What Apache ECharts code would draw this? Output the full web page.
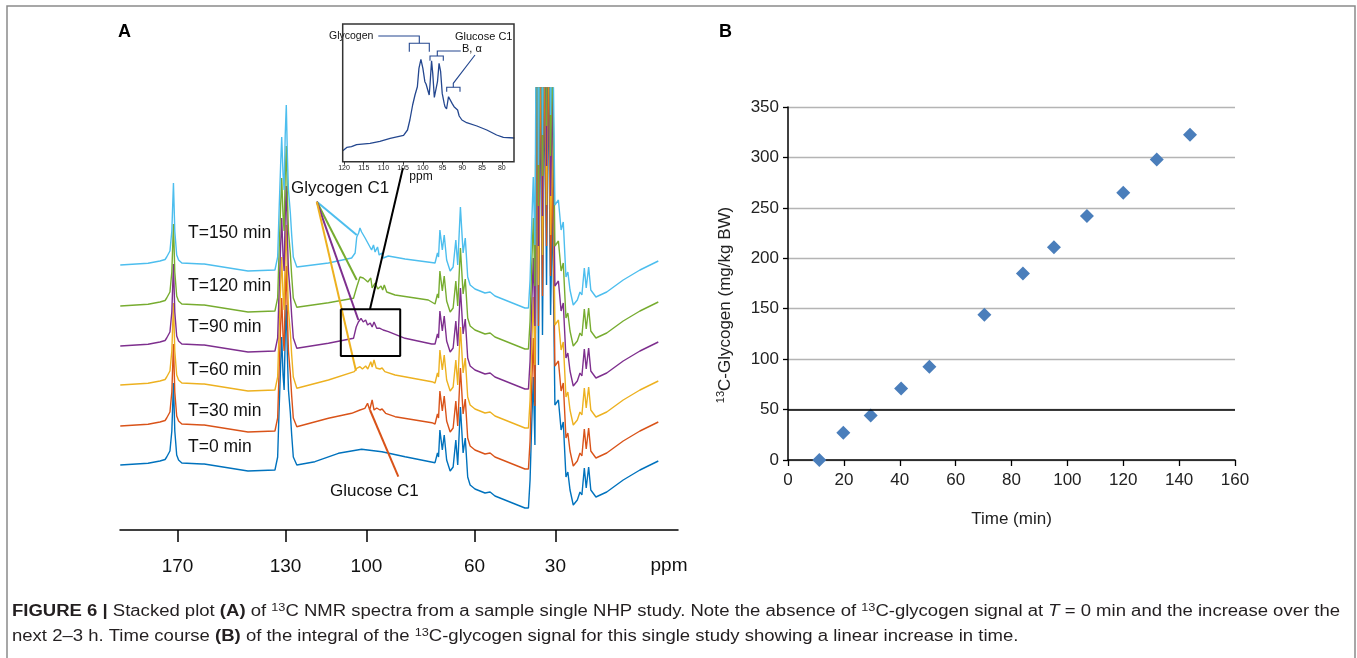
<!DOCTYPE html>
<html><head><meta charset="utf-8">
<script src="https://cdn.jsdelivr.net/npm/echarts@6/dist/echarts.min.js"></script>
<style>html,body{margin:0;padding:0;background:#fff}#c{width:1357px;height:658px}</style>
</head><body><div id="c"></div><script>
// ---------- Panel A: stacked 13C NMR spectra (x = ppm, y = intensity in display units) ----------
const ppmTicks = [170, 130, 100, 60, 30];
const insetTicks = [120, 115, 110, 105, 100, 95, 90, 85, 80];
const timeLabels = ['T=0 min', 'T=30 min', 'T=60 min', 'T=90 min', 'T=120 min', 'T=150 min'];
const traceColors = ['#0072BD', '#D95319', '#EDB120', '#7E2F8E', '#77AC30', '#4DBEEE'];
const traceOffsets = [65, 104, 145, 184, 224, 265];

// common spectrum shape, left part (carbonyl + aromatic region)
const baseLeftPpm = [191.2, 180.9, 176.5, 174.6, 174.0, 172.8, 172.1, 171.5, 171.0, 170.3, 169.6, 168.4, 160.9, 160.5, 160.1, 143.9, 133.9, 132.9, 132.4, 131.8, 131.4, 130.9, 130.5, 130.1, 129.7, 129.3, 128.9, 128.2, 127.7, 127.1];
const baseLeftH   = [0, 1.7, 4, 5.5, 8, 14, 34, 82, 34, 10, 5, 2, 1, 3, 1, -6, -5, 8, 52, 100, 128, 90, 75, 130, 160, 110, 75, 52, 30, 8];
// common spectrum shape, right part (aliphatic region)
const baseRightPpm = [74.0, 73.7, 73.3, 72.8, 71.9, 71.2, 70.3, 69.0, 67.9, 66.9, 66.2, 65.2, 64.2, 63.4, 62.5, 61.6, 59.8, 56.1, 54.2, 52.4, 48.7, 45.0, 41.3, 40.0, 39.4, 38.8, 38.2, 37.6, 36.8, 36.3, 35.5, 34.8, 34.0, 33.3, 32.6, 31.8, 31.1, 30.2, 28.9, 27.9, 27.1, 26.1, 25.4, 24.6, 23.4, 21.9, 20.9, 20.2, 19.3, 18.6, 17.7, 16.9, 16.2, 15.0, 11.0, 4.9, -1.3, -8.1];
const baseRightH   = [4, 12, 8, 35, 15, 30, 5, -6, -2, 25, 0, 58, 12, 27, -12, -20, -24, -28, -27, -31, -35, -39, -43, -43, -15, 40, 88, 20, 400, 100, 400, 130, 400, 180, 400, 150, 260, 60, 65, 35, 43, -12, -7, -25, -40, -35, -27, -30, -3, -23, -2, -25, -23, -32, -27, -15, -5, 4];

// C1 region (glycogen / glucose) for each time point
const c1PpmT0 = [125.8, 119.1, 110.4, 101.8, 94.3, 85.7, 74.6];
const c1HT0   = [0, 3.3, 11.7, 15.7, 13.3, 8.3, 2.3];
const c1PpmT30 = [125.8, 114.1, 105.5, 102.4, 100.6, 99.6, 98.8, 97.9, 97.2, 96.2, 95.0, 94.2, 92.9, 89.4, 75.8, 74.6];
const c1HT30   = [-0.7, 7.7, 12.7, 16, 17.7, 22.7, 16, 26, 16, 18, 16, 17, 12.7, 9.3, 3.3, 2];
const c1PpmT60 = [125.8, 114.1, 104.5, 103.6, 102.4, 101.5, 100.3, 99.5, 98.4, 97.9, 97.2, 96.4, 95.0, 94.2, 93.2, 89.4, 75.8, 74.6];
const c1HT60   = [-3.3, 5, 13.3, 16.7, 18.3, 16, 19, 16, 23.3, 18, 25, 17, 16, 17, 13.3, 10, 3.3, 2];
const c1PpmT90 = [125.8, 114.1, 104.8, 103.8, 103.0, 102.0, 101.2, 100.3, 99.6, 98.6, 97.9, 97.2, 96.2, 95.0, 93.8, 91.9, 85.7, 75.8, 74.6];
const c1HT90   = [-2.3, 2.7, 7.7, 19, 24, 27.7, 24, 26, 21, 23, 19, 24, 17.7, 17.7, 16, 14.3, 7.7, 2, 2];
const c1PpmT120 = [125.8, 114.1, 104.8, 103.6, 102.4, 101.2, 100.3, 99.5, 98.4, 97.9, 96.8, 95.8, 94.6, 94.0, 93.4, 92.5, 89.4, 77.1, 74.6];
const c1HT120   = [-1.3, 3.3, 7.7, 19, 29, 28, 26, 24, 28, 18, 23, 17, 20, 16, 21, 14, 11, 6, 2];
const c1PpmT150 = [125.8, 114.1, 105.5, 104.2, 103.6, 102.9, 102.4, 101.8, 101.2, 100.5, 99.9, 99.1, 98.1, 97.4, 96.8, 95.9, 95.3, 94.3, 93.8, 91.9, 85.7, 74.6];
const c1HT150   = [-2, 2, 7, 12, 28, 32, 37, 33, 34, 27, 28, 20, 15, 20, 13, 18, 10, 12, 7, 9, 6, 2];
const c1Ppm = [c1PpmT0, c1PpmT30, c1PpmT60, c1PpmT90, c1PpmT120, c1PpmT150];
const c1H = [c1HT0, c1HT30, c1HT60, c1HT90, c1HT120, c1HT150];

// inset spectrum (zoom of C1 region)
const insetPpm = [120.3, 119.3, 118.1, 116.8, 113.4, 110.9, 108.3, 104.9, 103.9, 103.3, 102.6, 102.0, 101.4, 101.0, 100.5, 100.0, 99.5, 99.2, 98.9, 98.4, 98.2, 97.8, 97.5, 97.1, 96.7, 96.3, 95.9, 95.5, 95.1, 94.6, 94.4, 94.0, 93.5, 93.1, 92.6, 92.1, 91.6, 91.2, 90.8, 90.1, 88.9, 86.3, 83.8, 81.3, 79.6, 76.8];
const insetH   = [11, 14.3, 15, 17, 18.3, 20.3, 23.3, 26.3, 31.7, 41.7, 56.7, 66.7, 75, 93.3, 102.3, 93.3, 80, 77.7, 79, 66.7, 76.7, 101, 88.3, 64.3, 62.3, 80, 98.3, 90, 68.3, 58.3, 55, 52.7, 65, 63.3, 58.3, 55, 54.3, 51.7, 45.7, 41.7, 39, 35.7, 31.7, 26.7, 24.3, 23.7];

// callout annotations in panel A (ppm, intensity)
const glycogenCallout = [[118.4, 328.3], [103.6, 295], [118.4, 328.3], [103.6, 250], [118.4, 328.3], [103.0, 210], [118.4, 328.3], [103.9, 159.3]];
const glycogenCalloutColors = ['#4DBEEE', '#77AC30', '#7E2F8E', '#EDB120'];
const glucoseCallout = [[98.7, 120], [88.2, 53.3]];
const zoomBox = [[109.5, 220.7], [87.5, 220.7], [87.5, 174], [109.5, 174], [109.5, 220.7]];
const zoomLink = [[98.7, 220.7], [86.5, 362]];

// ---------- Panel B: 13C-glycogen time course ----------
const timeMin = [11.2, 19.8, 29.6, 40.5, 50.6, 70.3, 84.1, 95.2, 107, 120, 132, 143.9];
const glycogen = [0, 27, 44, 71, 92.5, 144, 185, 211, 242, 265, 298, 322.6];

// ---------- caption ----------
const capLine1 = [['b', 'FIGURE 6 |'], ['n', ' Stacked plot '], ['b', '(A)'], ['n', ' of '], ['s', '13'], ['n', 'C NMR spectra from a sample single NHP study. Note the absence of '], ['s', '13'], ['n', 'C-glycogen signal at '], ['i', 'T'], ['n', ' = 0 min and the increase over the']];
const capLine2 = [['n', 'next 2–3 h. Time course '], ['b', '(B)'], ['n', ' of the integral of the '], ['s', '13'], ['n', 'C-glycogen signal for this single study showing a linear increase in time.']];

const FONT = '"Liberation Sans", Arial, Helvetica, sans-serif';
const capStyles = {
  n: {fontSize: 16, fontFamily: FONT, lineHeight: 20, fill: '#231f20'},
  b: {fontSize: 16, fontFamily: FONT, lineHeight: 20, fontWeight: 'bold', fill: '#231f20'},
  i: {fontSize: 16, fontFamily: FONT, lineHeight: 20, fontStyle: 'italic', fill: '#231f20'},
  s: {fontSize: 11, fontFamily: FONT, lineHeight: 11, verticalAlign: 'top', fill: '#231f20'}
};
const mctx = document.createElement('canvas').getContext('2d');
function lineWidth(segs) {
  let w = 0;
  segs.forEach(([k, t]) => {
    const st = capStyles[k];
    mctx.font = (st.fontStyle || 'normal') + ' ' + (st.fontWeight || 'normal') + ' ' + st.fontSize + 'px ' + FONT;
    w += mctx.measureText(t).width;
  });
  return w;
}
function rich(segs) { return segs.map(([k, t]) => '{' + k + '|' + t + '}').join(''); }
const capScale = 1328 / lineWidth(capLine1);

// ---------- build series ----------
const series = [];
for (let i = 0; i < 6; i++) {
  const pts = [];
  baseLeftPpm.forEach((p, j) => pts.push([p, baseLeftH[j] + traceOffsets[i]]));
  c1Ppm[i].forEach((p, j) => pts.push([p, c1H[i][j] + traceOffsets[i]]));
  baseRightPpm.forEach((p, j) => pts.push([p, baseRightH[j] + traceOffsets[i]]));
  series.push({
    name: timeLabels[i], type: 'line', xAxisIndex: 0, yAxisIndex: 0, data: pts,
    symbol: 'none', clip: true, lineStyle: {color: traceColors[i], width: 1.4}, silent: true
  });
}
for (let k = 0; k < 4; k++) {
  series.push({type: 'line', xAxisIndex: 0, yAxisIndex: 0, data: glycogenCallout.slice(2 * k, 2 * k + 2),
    symbol: 'none', clip: false, lineStyle: {color: glycogenCalloutColors[k], width: 2}, silent: true});
}
series.push({type: 'line', xAxisIndex: 0, yAxisIndex: 0, data: glucoseCallout, symbol: 'none', clip: false,
  lineStyle: {color: '#D95319', width: 2}, silent: true});
series.push({type: 'line', xAxisIndex: 0, yAxisIndex: 0, data: zoomBox, symbol: 'none', clip: false,
  lineStyle: {color: '#000', width: 2}, silent: true});
series.push({type: 'line', xAxisIndex: 0, yAxisIndex: 0, data: zoomLink, symbol: 'none', clip: false,
  lineStyle: {color: '#000', width: 2}, silent: true});
series.push({type: 'line', xAxisIndex: 2, yAxisIndex: 2, data: insetPpm.map((p, j) => [p, insetH[j]]),
  symbol: 'none', lineStyle: {color: '#24478f', width: 1.3}, silent: true});
series.push({type: 'scatter', xAxisIndex: 1, yAxisIndex: 1, data: timeMin.map((t, j) => [t, glycogen[j]]),
  symbol: 'diamond', symbolSize: 14, itemStyle: {color: '#4a7ebb', opacity: 1},
  markLine: {silent: true, symbol: 'none', label: {show: false}, lineStyle: {color: '#000', width: 1.5, type: 'solid'}, data: [{yAxis: 50}]}
});

// ---------- graphics (text annotations, brackets, caption, frame) ----------
const ann = '#24478f';
const labelY = [447.5, 411, 370, 327.5, 286, 233];
const graphic = [
  {type: 'rect', shape: {x: 7, y: 6, width: 1348, height: 700}, style: {fill: 'none', stroke: '#8a8a8a', lineWidth: 1.5}, silent: true},
  {type: 'text', x: 118, y: 32, style: {text: 'A', font: 'bold 18px ' + FONT, fill: '#000', textVerticalAlign: 'middle'}},
  {type: 'text', x: 719, y: 32, style: {text: 'B', font: 'bold 18px ' + FONT, fill: '#000', textVerticalAlign: 'middle'}},
  {type: 'text', x: 291, y: 188, style: {text: 'Glycogen C1', font: '17px ' + FONT, fill: '#111', textVerticalAlign: 'middle'}},
  {type: 'text', x: 330, y: 491, style: {text: 'Glucose C1', font: '17px ' + FONT, fill: '#111', textVerticalAlign: 'middle'}},
  {type: 'text', x: 669, y: 566, style: {text: 'ppm', font: '19px ' + FONT, fill: '#111', textAlign: 'center', textVerticalAlign: 'middle'}},
  // inset annotations
  {type: 'text', x: 421, y: 177, style: {text: 'ppm', font: '12px ' + FONT, fill: '#111', textAlign: 'center', textVerticalAlign: 'middle'}},
  {type: 'text', x: 329, y: 36, style: {text: 'Glycogen', font: '10.5px ' + FONT, fill: '#111', textVerticalAlign: 'middle'}},
  {type: 'text', x: 455, y: 37, style: {text: 'Glucose C1', font: '11px ' + FONT, fill: '#111', textVerticalAlign: 'middle'}},
  {type: 'text', x: 462, y: 49, style: {text: 'B, α', font: '11px ' + FONT, fill: '#111', textVerticalAlign: 'middle'}},
  {type: 'polyline', shape: {points: [[378.3, 36], [419.3, 36], [419.3, 43.3]]}, style: {stroke: ann, lineWidth: 1.1, fill: 'none'}},
  {type: 'polyline', shape: {points: [[409.3, 51.7], [409.3, 43.3], [429.3, 43.3], [429.3, 51.7]]}, style: {stroke: ann, lineWidth: 1.1, fill: 'none'}},
  {type: 'polyline', shape: {points: [[460.7, 51], [437.3, 51], [437.3, 56]]}, style: {stroke: ann, lineWidth: 1.1, fill: 'none'}},
  {type: 'polyline', shape: {points: [[430, 60.7], [430, 56], [443.3, 56], [443.3, 60.7]]}, style: {stroke: ann, lineWidth: 1.1, fill: 'none'}},
  {type: 'polyline', shape: {points: [[475, 55], [453.3, 83.3], [453.3, 87.3]]}, style: {stroke: ann, lineWidth: 1.1, fill: 'none'}},
  {type: 'polyline', shape: {points: [[446.7, 91.7], [446.7, 87.3], [460, 87.3], [460, 91.7]]}, style: {stroke: ann, lineWidth: 1.1, fill: 'none'}},
  // panel B y-axis name
  {type: 'text', x: 725, y: 305, rotation: Math.PI / 2, style: {text: '{s|13}{n|C-Glycogen (mg/kg BW)}', textAlign: 'center', textVerticalAlign: 'middle',
    rich: {n: {fontSize: 17, fontFamily: FONT, lineHeight: 20, fill: '#222'}, s: {fontSize: 11, fontFamily: FONT, lineHeight: 11, verticalAlign: 'top', fill: '#222'}}}},
  // caption
  {type: 'text', x: 12, y: 612, scaleX: capScale, style: {text: rich(capLine1), rich: capStyles, textVerticalAlign: 'middle'}},
  {type: 'text', x: 12, y: 637, scaleX: capScale, style: {text: rich(capLine2), rich: capStyles, textVerticalAlign: 'middle'}}
];
timeLabels.forEach((t, i) => graphic.push({type: 'text', x: 188, y: labelY[i], style: {text: t, font: '17.5px ' + FONT, fill: '#111', textVerticalAlign: 'middle'}}));

const option = {
  animation: false,
  backgroundColor: '#fff',
  grid: [
    {left: 120, top: 88, width: 558, height: 442},
    {left: 788, top: 107, width: 447, height: 353},
    {left: 342.7, top: 24, width: 171.3, height: 137.7, show: true, borderColor: '#333', borderWidth: 1.5, backgroundColor: 'transparent', z: 5}
  ],
  xAxis: [
    {gridIndex: 0, type: 'value', inverse: true, min: -15.4, max: 191.3,
      axisLine: {show: true, onZero: false, lineStyle: {color: '#000', width: 1.5}},
      axisTick: {show: true, customValues: ppmTicks, length: 12, lineStyle: {color: '#000', width: 1.5}},
      axisLabel: {customValues: ppmTicks, fontSize: 19, fontFamily: FONT, color: '#111', margin: 27},
      splitLine: {show: false}},
    {gridIndex: 1, type: 'value', min: 0, max: 160, interval: 20,
      axisLine: {show: true, onZero: false, lineStyle: {color: '#000', width: 1.5}},
      axisTick: {show: true, length: 6, lineStyle: {color: '#000', width: 1.3}},
      axisLabel: {fontSize: 17, fontFamily: FONT, color: '#222', margin: 12},
      splitLine: {show: false},
      name: 'Time (min)', nameLocation: 'middle', nameGap: 51, nameTextStyle: {fontSize: 17, fontFamily: FONT, color: '#222'}},
    {gridIndex: 2, type: 'value', inverse: true, min: 76.9, max: 120.33,
      axisLine: {show: false},
      axisTick: {show: true, customValues: insetTicks, length: 3, lineStyle: {color: '#333', width: 1}},
      axisLabel: {customValues: insetTicks, fontSize: 7, fontFamily: FONT, color: '#222', margin: 3},
      splitLine: {show: false}}
  ],
  yAxis: [
    {gridIndex: 0, type: 'value', min: 0, max: 442, show: false},
    {gridIndex: 1, type: 'value', min: 0, max: 350, interval: 50,
      axisLine: {show: true, lineStyle: {color: '#000', width: 1.5}},
      axisTick: {show: true, length: 5, lineStyle: {color: '#000', width: 1.3}},
      axisLabel: {fontSize: 17, fontFamily: FONT, color: '#222', margin: 9},
      splitLine: {show: true, lineStyle: {color: '#b4b4b4', width: 1.3}}},
    {gridIndex: 2, type: 'value', min: 0, max: 137.7, show: false}
  ],
  series: series,
  graphic: graphic
};
const chart = echarts.init(document.getElementById('c'), null, {renderer: 'canvas'});
chart.setOption(option);
</script></body></html>
